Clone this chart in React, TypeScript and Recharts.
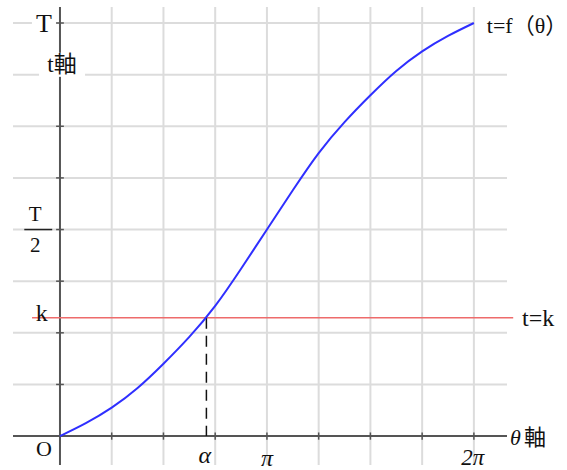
import { LineChart, Line, XAxis, YAxis, ReferenceLine, ReferenceDot } from 'recharts';

// θ in units of π/4, t in units of T/8
const thetaSteps = [0, 0.5, 1, 1.5, 2, 2.5, 3, 3.5, 4, 4.5, 5, 5.5, 6, 6.5, 7, 7.5, 8];
const tCurve = [0, 0.25, 0.55, 0.93, 1.4, 1.92, 2.52, 3.24, 4.0, 4.76, 5.48, 6.08, 6.6, 7.07, 7.45, 7.75, 8.0];

const gridX = [1, 2, 3, 4, 5, 6, 7, 8];
const gridY = [1, 2, 3, 4, 5, 6, 7, 8];

const kLevel = 2.29;
const alphaPos = 2.83;

const xDomain = [-0.908, 8.64];
const yDomain = [-0.56, 8.31];

const data = thetaSteps.map((u, i) => ({ u, t: tCurve[i] }));

const FONT = "'Liberation Serif', 'Noto Sans CJK JP', serif";

type LabelOpts = {
  text: React.ReactNode;
  size?: number;
  italic?: boolean;
  anchor?: 'start' | 'middle' | 'end';
  bg?: { w: number; h: number };
};

function textLabel(o: LabelOpts) {
  return (props: any) => {
    const vb = props.viewBox || {};
    const x = vb.x + (vb.width || 0) / 2;
    const y = vb.y + (vb.height || 0) / 2;
    return (
      <g>
        {o.bg && (
          <rect x={x - o.bg.w / 2} y={y - o.bg.h / 2} width={o.bg.w} height={o.bg.h} fill="#fff" />
        )}
        <text
          x={x}
          y={y}
          textAnchor={o.anchor || 'middle'}
          dominantBaseline="central"
          fontFamily={FONT}
          fontSize={o.size || 22}
          fontStyle={o.italic ? 'italic' : 'normal'}
          fill="#111"
        >
          {o.text}
        </text>
      </g>
    );
  };
}

export default function App() {
  return (
    <div style={{ position: 'absolute', left: 0, top: 0, width: 567, height: 470, background: '#fff' }}>
      <LineChart width={567} height={470} data={data} margin={{ top: 7, right: 60, bottom: 5, left: 13 }}>
        <XAxis type="number" dataKey="u" domain={xDomain} allowDataOverflow hide />
        <YAxis type="number" domain={yDomain} allowDataOverflow hide />

        {gridX.map((u) => (
          <ReferenceLine key={`gx${u}`} x={u} stroke="#dcdcdc" strokeWidth={2} />
        ))}
        {gridY.map((v) =>
          v === 8 ? (
            <ReferenceLine key={`gy${v}`} segment={[{ x: xDomain[0], y: v }, { x: 8, y: v }]} stroke="#dcdcdc" strokeWidth={2} />
          ) : (
            <ReferenceLine key={`gy${v}`} y={v} stroke="#dcdcdc" strokeWidth={2} />
          )
        )}

        <ReferenceLine x={0} stroke="#555" strokeWidth={2} />
        <ReferenceLine y={0} stroke="#555" strokeWidth={2} />
        {gridY.map((v) => (
          <ReferenceLine key={`ty${v}`} segment={[{ x: -0.075, y: v }, { x: 0.075, y: v }]} stroke="#555" strokeWidth={1.5} />
        ))}
        {gridX.map((u) => (
          <ReferenceLine key={`tx${u}`} segment={[{ x: u, y: -0.07 }, { x: u, y: 0.07 }]} stroke="#555" strokeWidth={1.5} />
        ))}

        <ReferenceLine
          segment={[{ x: -0.54, y: kLevel }, { x: 8.76, y: kLevel }]}
          stroke="#ee6b6b"
          strokeWidth={1.5}
          ifOverflow="visible"
        />
        <ReferenceLine
          segment={[{ x: alphaPos, y: kLevel }, { x: alphaPos, y: 0 }]}
          stroke="#111"
          strokeWidth={1.5}
          strokeDasharray="11 7"
        />

        <Line
          dataKey="t"
          type="natural"
          stroke="#2f2fff"
          strokeWidth={2}
          dot={false}
          isAnimationActive={false}
        />

        {/* fraction bar of T/2 */}
        <ReferenceLine segment={[{ x: -0.69, y: 4 }, { x: -0.15, y: 4 }]} stroke="#222" strokeWidth={1.5} />

        <ReferenceDot x={-0.31} y={8} r={0} label={textLabel({ text: 'T', size: 26, bg: { w: 24, h: 20 } })} />
        <ReferenceDot x={0.04} y={7.19} r={0} label={textLabel({ text: 't軸', size: 23, bg: { w: 46, h: 24 } })} />
        <ReferenceDot x={-0.48} y={4.3} r={0} label={textLabel({ text: 'T', size: 21 })} />
        <ReferenceDot x={-0.48} y={3.7} r={0} label={textLabel({ text: '2', size: 21 })} />
        <ReferenceDot x={-0.35} y={2.38} r={0} label={textLabel({ text: 'k', size: 24 })} />
        <ReferenceDot x={-0.31} y={-0.25} r={0} label={textLabel({ text: 'O', size: 22 })} />
        <ReferenceDot x={alphaPos - 0.03} y={-0.37} r={0} label={textLabel({ text: 'α', size: 24, italic: true })} />
        <ReferenceDot x={4} y={-0.42} r={0} label={textLabel({ text: 'π', size: 24, italic: true })} />
        <ReferenceDot x={7.98} y={-0.42} r={0} label={textLabel({ text: '2π', size: 23, italic: true })} />
        <ReferenceDot
          x={8.7}
          y={-0.02}
          r={0}
          ifOverflow="visible"
          label={textLabel({
            text: (
              <>
                <tspan fontStyle="italic">θ</tspan>
                <tspan dx={3}>軸</tspan>
              </>
            ),
            size: 22,
            anchor: 'start',
          })}
        />
        <ReferenceDot x={8.25} y={7.95} r={0} ifOverflow="visible" label={textLabel({ text: 't=f（θ）', size: 22, anchor: 'start' })} />
        <ReferenceDot x={8.93} y={2.29} r={0} ifOverflow="visible" label={textLabel({ text: 't=k', size: 24, anchor: 'start' })} />
      </LineChart>
    </div>
  );
}
